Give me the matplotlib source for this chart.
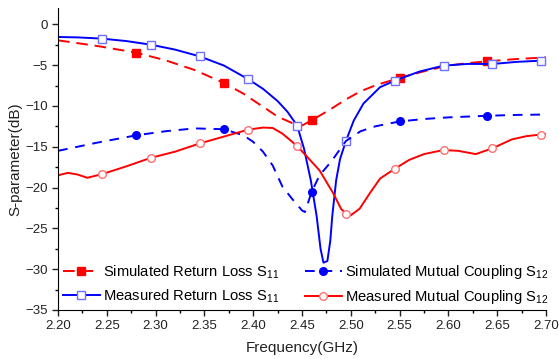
import matplotlib
matplotlib.use('Agg')
import matplotlib.pyplot as plt
from matplotlib.ticker import MultipleLocator

plt.rcParams['font.family'] = ['Liberation Sans', 'DejaVu Sans']
plt.rcParams['mathtext.default'] = 'regular'

# Measured return loss S11 (blue solid, open squares)
f_meas_s11 = [2.20, 2.22, 2.245, 2.27, 2.295, 2.32, 2.345, 2.37, 2.395, 2.41, 2.425, 2.435,
              2.445, 2.452, 2.459, 2.465, 2.469, 2.472, 2.476, 2.479, 2.481, 2.485, 2.489,
              2.495, 2.503, 2.513, 2.53, 2.545, 2.57, 2.595, 2.62, 2.645, 2.67, 2.695, 2.70]
v_meas_s11 = [-1.55, -1.6, -1.75, -2.05, -2.49, -3.1, -3.92, -5.05, -6.73, -7.9, -9.4, -10.7,
              -12.4, -15.2, -19.1, -23.5, -27.5, -29.2, -29.0, -26.5, -23.5, -19.1, -16.5,
              -14.3, -11.8, -9.7, -7.7, -6.9, -5.8, -5.06, -4.85, -4.86, -4.6, -4.45, -4.43]

# Simulated return loss S11 (red dashed, filled squares)
f_sim_s11 = [2.20, 2.24, 2.28, 2.31, 2.34, 2.37, 2.39, 2.41, 2.425, 2.44, 2.45, 2.46, 2.478,
             2.495, 2.51, 2.527, 2.55, 2.575, 2.60, 2.62, 2.64, 2.67, 2.70]
v_sim_s11 = [-1.96, -2.65, -3.47, -4.4, -5.6, -7.18, -8.5, -10.1, -11.3, -12.1, -12.4, -11.75, -10.5,
             -9.2, -8.2, -7.4, -6.57, -5.75, -5.05, -4.75, -4.53, -4.25, -4.05]

# Simulated mutual coupling S12 (blue dashed, filled circles)
f_sim_s12 = [2.20, 2.24, 2.28, 2.31, 2.34, 2.37, 2.39, 2.40, 2.41, 2.42, 2.43, 2.44, 2.45, 2.453,
             2.46, 2.468, 2.48, 2.495, 2.51, 2.525, 2.55, 2.575, 2.60, 2.64, 2.67, 2.70]
v_sim_s12 = [-15.5, -14.5, -13.6, -13.1, -12.75, -12.85, -13.6, -14.4, -15.6, -17.3, -19.9, -21.4, -22.8, -23.0,
             -20.5, -18.5, -16.8, -14.3, -13.1, -12.5, -11.9, -11.6, -11.4, -11.2, -11.1, -11.05]

# Measured mutual coupling S12 (red solid, open circles)
f_meas_s12 = [2.20, 2.21, 2.22, 2.23, 2.245, 2.27, 2.295, 2.32, 2.345, 2.37, 2.395, 2.41, 2.42,
              2.43, 2.445, 2.455, 2.468, 2.482, 2.49, 2.495, 2.50, 2.509, 2.52, 2.53, 2.545,
              2.56, 2.575, 2.595, 2.61, 2.628, 2.645, 2.665, 2.68, 2.695, 2.70]
v_meas_s12 = [-18.5, -18.2, -18.4, -18.8, -18.36, -17.4, -16.36, -15.6, -14.6, -13.75, -12.9, -12.65, -12.7,
              -13.4, -14.9, -16.2, -17.9, -20.7, -22.6, -23.2, -23.4, -22.6, -20.6, -18.9, -17.7,
              -16.6, -15.9, -15.4, -15.5, -15.9, -15.2, -14.1, -13.7, -13.5, -13.45]

meas_marks = [2.245, 2.295, 2.345, 2.395, 2.445, 2.495, 2.545, 2.595, 2.645, 2.695]
sim_marks = [2.28, 2.37, 2.46, 2.55, 2.64]

def mark_idx(freqs, marks):
    return [i for i, f in enumerate(freqs) if any(abs(f - m) < 1e-6 for m in marks)]

fig = plt.figure(figsize=(5.59, 3.59), dpi=100)
ax = fig.add_axes([0.1038, 0.1365, 0.8729, 0.8412])

ax.plot(f_sim_s11, v_sim_s11, color='#ff0000', lw=1.4, dashes=(6, 3.5),
        marker='s', ms=5.5, mfc='#ff0000', mec='#ff0000',
        markevery=mark_idx(f_sim_s11, sim_marks), label='Simulated Return Loss S$_{11}$')
ax.plot(f_meas_s11, v_meas_s11, color='#0000ff', lw=1.4,
        marker='s', ms=5.5, mfc='white', mec='#7070ff', mew=1.0,
        markevery=mark_idx(f_meas_s11, meas_marks), label='Measured Return Loss S$_{11}$')
ax.plot(f_sim_s12, v_sim_s12, color='#0000ff', lw=1.4, dashes=(5, 4),
        marker='o', ms=5.5, mfc='#0000ff', mec='#0000ff',
        markevery=mark_idx(f_sim_s12, sim_marks), label='Simulated Mutual Coupling S$_{12}$')
ax.plot(f_meas_s12, v_meas_s12, color='#ff0000', lw=1.4,
        marker='o', ms=5.5, mfc='white', mec='#ff7070', mew=1.0,
        markevery=mark_idx(f_meas_s12, meas_marks), label='Measured Mutual Coupling S$_{12}$')

ax.set_xlim(2.20, 2.70)
ax.set_ylim(-35, 2)
ax.xaxis.set_major_locator(MultipleLocator(0.05))
ax.xaxis.set_minor_locator(MultipleLocator(0.025))
ax.yaxis.set_major_locator(MultipleLocator(5))
ax.yaxis.set_minor_locator(MultipleLocator(2.5))
ax.xaxis.set_major_formatter(plt.FormatStrFormatter('%.2f'))
ax.spines['top'].set_visible(False)
ax.spines['right'].set_visible(False)
ax.tick_params(which='major', direction='out', length=4, width=1, labelsize=9.5, colors='#222222')
ax.tick_params(which='minor', direction='out', length=2.5, width=1)
ax.set_xlabel('Frequency(GHz)', fontsize=11, color='#222222', labelpad=6)
ax.set_ylabel('S-parameter(dB)', fontsize=11, color='#222222', labelpad=2)

ax.legend(ncol=2, loc='lower left', bbox_to_anchor=(-0.01, -0.02), frameon=False, fontsize=10.6,
          handlelength=2.45, handletextpad=0.27, columnspacing=1.75, labelspacing=0.45,
          borderaxespad=0.3)

fig.savefig('out.png', dpi=100)
